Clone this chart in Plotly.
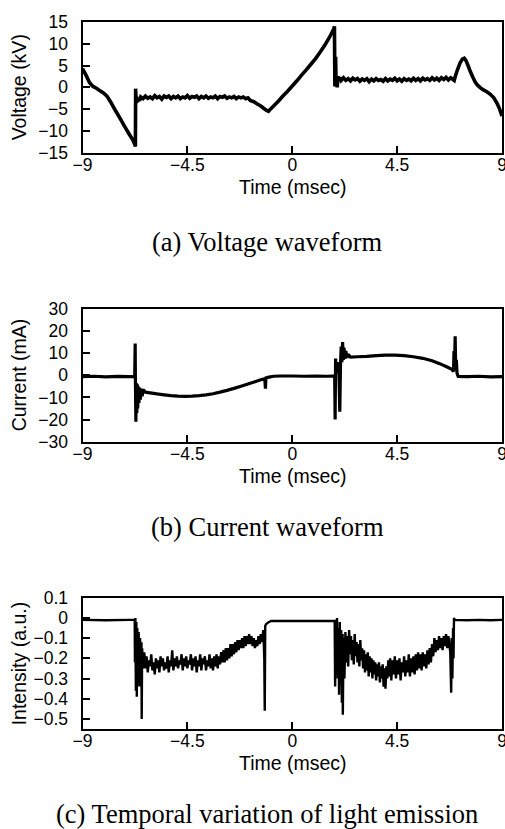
import plotly.graph_objects as go

# ---------------- data (time in msec) ----------------
voltage = [
    (-9.00, 4.3), (-8.85, 2.8), (-8.70, 1.1), (-8.55, 0.2), (-8.40, -0.2), (-8.25, -0.8),
    (-8.10, -1.3), (-7.95, -2.0), (-7.80, -3.3), (-7.60, -5.2), (-7.40, -7.0), (-7.20, -8.9),
    (-7.00, -10.7), (-6.85, -12.0), (-6.75, -13.2), (-6.73, -13.6), (-6.72, -0.3), (-6.70, -3.6),
    (-6.68, -2.2), (-6.64, -3.4), (-6.60, -2.6), (-6.55, -3.1), (-6.50, -2.2),
    (-6.40, -2.6), (-6.30, -2.0), (-6.20, -2.5), (-6.10, -2.2), (-6.00, -2.6), (-5.90, -1.9),
    (-5.80, -2.4), (-5.70, -2.1), (-5.60, -2.7), (-5.50, -2.0), (-5.40, -2.3), (-5.30, -2.0),
    (-5.20, -2.6), (-5.10, -2.1), (-5.00, -2.4), (-4.90, -2.0), (-4.80, -2.6), (-4.70, -2.2),
    (-4.60, -2.4), (-4.50, -1.9), (-4.40, -2.5), (-4.30, -2.1), (-4.20, -2.3), (-4.10, -2.0),
    (-4.00, -2.6), (-3.90, -2.1), (-3.80, -2.4), (-3.70, -2.0), (-3.60, -2.5), (-3.50, -2.2),
    (-3.40, -2.4), (-3.30, -2.0), (-3.20, -2.6), (-3.10, -2.1), (-3.00, -2.3), (-2.90, -2.0),
    (-2.80, -2.5), (-2.70, -2.2), (-2.60, -2.4), (-2.50, -2.1), (-2.40, -2.6), (-2.30, -2.2),
    (-2.20, -2.4), (-2.10, -2.2), (-2.00, -2.6), (-1.90, -2.4),
    (-1.80, -3.0), (-1.65, -3.3), (-1.50, -3.8), (-1.35, -4.3), (-1.20, -4.9), (-1.10, -5.3),
    (-1.02, -5.5), (-0.95, -5.1), (-0.80, -4.3), (-0.60, -3.2), (-0.40, -2.0), (-0.20, -0.9),
    (0.00, 0.3), (0.20, 1.5), (0.40, 2.8), (0.60, 4.0), (0.80, 5.3), (1.00, 6.6), (1.20, 8.1),
    (1.40, 9.7), (1.60, 11.5), (1.78, 13.4), (1.81, 14.0),
    (1.83, 0.2), (1.86, 7.0), (1.88, 0.8), (1.90, 2.6), (1.93, 0.0), (1.96, 2.5), (2.00, 1.4),
    (2.05, 2.3), (2.10, 1.6),
    (2.20, 2.2), (2.30, 1.6), (2.40, 2.0), (2.50, 1.5), (2.60, 2.1), (2.70, 1.7), (2.80, 2.0),
    (2.90, 1.4), (3.00, 1.9), (3.10, 1.6), (3.20, 2.0), (3.30, 1.3), (3.40, 1.9), (3.50, 1.5),
    (3.60, 2.0), (3.70, 1.6), (3.80, 1.8), (3.90, 1.4), (4.00, 2.0), (4.10, 1.5), (4.20, 1.9),
    (4.30, 1.6), (4.40, 2.1), (4.50, 1.5), (4.60, 1.9), (4.70, 1.4), (4.80, 2.0), (4.90, 1.6),
    (5.00, 1.9), (5.10, 1.5), (5.20, 2.1), (5.30, 1.6), (5.40, 2.0), (5.50, 1.5), (5.60, 2.1),
    (5.70, 1.7), (5.80, 2.0), (5.90, 1.6), (6.00, 2.2), (6.10, 1.7), (6.20, 2.1), (6.30, 1.6),
    (6.40, 2.2), (6.50, 1.8), (6.60, 2.3), (6.70, 1.7), (6.80, 2.2), (6.90, 1.8),
    (6.95, 1.6), (7.00, 2.6), (7.10, 4.2), (7.20, 5.6), (7.30, 6.5), (7.38, 6.7), (7.45, 6.2),
    (7.55, 4.9), (7.65, 3.5), (7.75, 2.3), (7.85, 1.2), (7.95, 0.5), (8.05, 0.0), (8.20, -0.6),
    (8.35, -1.0), (8.50, -1.6), (8.65, -2.4), (8.80, -3.8), (8.90, -5.0), (9.00, -6.6),
]

current = [
    (-9.00, -0.6), (-8.50, -0.4), (-8.00, -0.7), (-7.50, -0.5), (-7.00, -0.6), (-6.76, -0.5),
    (-6.74, 14.4), (-6.73, -2.0), (-6.71, -21.0), (-6.69, -3.5), (-6.67, -17.0), (-6.65, -4.0),
    (-6.63, -15.0), (-6.61, -5.0), (-6.58, -12.5), (-6.55, -5.5), (-6.52, -11.0), (-6.48, -6.0),
    (-6.44, -9.5), (-6.40, -6.5), (-6.30, -7.6), (-6.10, -7.9), (-5.80, -8.4), (-5.50, -8.8),
    (-5.20, -9.2), (-4.90, -9.4), (-4.60, -9.5), (-4.30, -9.4), (-4.00, -9.2), (-3.70, -8.8),
    (-3.40, -8.3), (-3.10, -7.6), (-2.80, -6.8), (-2.50, -5.9), (-2.20, -4.9), (-1.90, -3.9),
    (-1.60, -2.9), (-1.35, -2.0), (-1.18, -1.5), (-1.15, -6.0), (-1.13, -1.2), (-1.00, -0.8),
    (-0.80, -0.4), (-0.50, -0.3), (0.00, -0.3), (0.50, -0.4), (1.00, -0.3), (1.50, -0.4),
    (1.82, -0.3), (1.84, -20.0), (1.86, 7.6), (1.88, 1.0), (1.90, 5.0), (1.93, 1.5), (1.96, 6.0),
    (2.00, 3.0), (2.04, -16.5), (2.07, 5.0), (2.10, 13.0), (2.13, 6.0), (2.16, 15.0), (2.19, 7.0),
    (2.22, 12.5), (2.26, 7.5), (2.30, 11.0), (2.35, 8.0), (2.40, 9.5), (2.50, 8.2), (2.80, 8.4),
    (3.20, 8.6), (3.60, 8.9), (4.00, 9.1), (4.40, 9.1), (4.80, 8.9), (5.20, 8.4), (5.60, 7.7),
    (6.00, 6.6), (6.30, 5.4), (6.60, 4.0), (6.85, 2.7), (6.92, 1.8), (6.94, 11.0), (6.96, 2.5),
    (6.99, 17.7), (7.01, 5.0), (7.04, 7.0), (7.07, 1.0), (7.12, -0.5), (7.50, -0.6), (8.00, -0.4),
    (8.50, -0.7), (9.00, -0.6),
]

intensity = [
    (-9.00, -0.010), (-8.00, -0.012), (-7.00, -0.010), (-6.76, -0.010), (-6.75, -0.22),
    (-6.73, 0.00), (-6.71, -0.36), (-6.69, -0.02), (-6.67, -0.39), (-6.65, -0.05), (-6.62, -0.30),
    (-6.59, -0.07), (-6.56, -0.34), (-6.53, -0.10), (-6.50, -0.27), (-6.47, -0.12), (-6.46, -0.50),
    (-6.44, -0.15), (-6.40, -0.25), (-6.35, -0.17),
    (-6.30, -0.25), (-6.25, -0.19), (-6.20, -0.27), (-6.15, -0.21), (-6.10, -0.24), (-6.05, -0.18),
    (-6.00, -0.26), (-5.95, -0.22), (-5.90, -0.28), (-5.85, -0.20), (-5.80, -0.25), (-5.75, -0.21),
    (-5.70, -0.27), (-5.65, -0.19), (-5.60, -0.24), (-5.55, -0.20), (-5.50, -0.26), (-5.45, -0.22),
    (-5.40, -0.25), (-5.35, -0.19), (-5.30, -0.27), (-5.25, -0.21), (-5.20, -0.24), (-5.15, -0.16),
    (-5.10, -0.26), (-5.05, -0.20), (-5.00, -0.24), (-4.95, -0.19), (-4.90, -0.25), (-4.85, -0.21),
    (-4.80, -0.23), (-4.75, -0.18), (-4.70, -0.26), (-4.65, -0.20), (-4.60, -0.24), (-4.55, -0.19),
    (-4.50, -0.25), (-4.45, -0.21), (-4.40, -0.23), (-4.35, -0.18), (-4.30, -0.26), (-4.25, -0.20),
    (-4.20, -0.24), (-4.15, -0.19), (-4.10, -0.27), (-4.05, -0.21), (-4.00, -0.24), (-3.95, -0.18),
    (-3.90, -0.26), (-3.85, -0.20), (-3.80, -0.23), (-3.75, -0.19), (-3.70, -0.26), (-3.65, -0.21),
    (-3.60, -0.24), (-3.55, -0.18), (-3.50, -0.25), (-3.45, -0.20), (-3.40, -0.26), (-3.35, -0.19),
    (-3.30, -0.24), (-3.25, -0.18), (-3.20, -0.25), (-3.15, -0.19), (-3.10, -0.23), (-3.05, -0.17),
    (-3.00, -0.22), (-2.95, -0.16), (-2.90, -0.22), (-2.85, -0.15), (-2.80, -0.21), (-2.75, -0.15),
    (-2.70, -0.20), (-2.65, -0.13), (-2.60, -0.19), (-2.55, -0.13), (-2.50, -0.18), (-2.45, -0.12),
    (-2.40, -0.17), (-2.35, -0.11), (-2.30, -0.16), (-2.25, -0.11), (-2.20, -0.15), (-2.15, -0.10),
    (-2.10, -0.15), (-2.05, -0.09), (-2.00, -0.14), (-1.95, -0.09), (-1.90, -0.13), (-1.85, -0.08),
    (-1.80, -0.13), (-1.75, -0.09), (-1.70, -0.14), (-1.65, -0.10), (-1.60, -0.15), (-1.55, -0.11),
    (-1.50, -0.14), (-1.45, -0.09), (-1.40, -0.13), (-1.35, -0.08), (-1.30, -0.12),
    (-1.24, -0.06), (-1.20, -0.20), (-1.18, -0.46), (-1.16, -0.04), (-1.12, -0.03),
    (-1.00, -0.020), (-0.90, -0.015), (0.00, -0.015), (1.00, -0.015), (1.82, -0.015),
    (1.84, -0.34), (1.86, -0.01), (1.89, -0.20), (1.92, 0.00), (1.95, -0.30), (1.98, -0.05),
    (2.01, -0.38), (2.04, -0.02), (2.07, -0.33), (2.10, -0.06), (2.13, -0.42), (2.16, -0.08),
    (2.17, -0.48), (2.20, -0.10), (2.24, -0.30), (2.28, -0.07), (2.33, -0.22), (2.36, -0.09),
    (2.40, -0.24), (2.44, -0.06), (2.48, -0.18), (2.52, -0.09), (2.56, -0.21), (2.60, -0.11),
    (2.64, -0.23), (2.68, -0.08), (2.72, -0.19), (2.76, -0.12), (2.80, -0.22), (2.84, -0.13),
    (2.88, -0.24), (2.92, -0.11), (2.96, -0.21), (3.00, -0.15), (3.04, -0.25), (3.08, -0.16),
    (3.12, -0.27), (3.16, -0.18), (3.20, -0.26), (3.24, -0.17), (3.28, -0.29), (3.32, -0.19),
    (3.36, -0.27), (3.40, -0.20), (3.44, -0.30), (3.48, -0.21), (3.52, -0.28), (3.56, -0.22),
    (3.60, -0.31), (3.64, -0.23), (3.68, -0.29), (3.72, -0.22), (3.76, -0.32), (3.80, -0.24),
    (3.84, -0.30), (3.88, -0.23), (3.92, -0.34), (3.96, -0.25), (4.00, -0.35), (4.04, -0.24),
    (4.08, -0.30), (4.12, -0.21), (4.16, -0.29), (4.20, -0.20), (4.25, -0.31), (4.30, -0.21),
    (4.35, -0.28), (4.40, -0.19), (4.45, -0.30), (4.50, -0.21), (4.55, -0.28), (4.60, -0.20),
    (4.65, -0.31), (4.70, -0.22), (4.75, -0.27), (4.80, -0.19), (4.85, -0.29), (4.90, -0.21),
    (4.95, -0.27), (5.00, -0.18), (5.05, -0.29), (5.10, -0.20), (5.15, -0.27), (5.20, -0.19),
    (5.25, -0.28), (5.30, -0.18), (5.35, -0.26), (5.40, -0.17), (5.45, -0.25), (5.50, -0.18),
    (5.55, -0.26), (5.60, -0.17), (5.65, -0.24), (5.70, -0.18), (5.75, -0.25), (5.80, -0.16),
    (5.85, -0.23), (5.90, -0.15), (5.95, -0.22), (6.00, -0.13), (6.05, -0.19), (6.10, -0.10),
    (6.15, -0.17), (6.20, -0.11), (6.25, -0.16), (6.30, -0.09), (6.35, -0.15), (6.40, -0.10),
    (6.45, -0.16), (6.50, -0.09), (6.55, -0.14), (6.60, -0.08), (6.65, -0.15), (6.70, -0.09),
    (6.75, -0.14), (6.78, -0.17), (6.82, -0.37), (6.84, -0.10), (6.87, -0.30), (6.90, -0.05),
    (6.92, -0.20), (6.94, 0.00), (6.97, -0.010),
    (7.50, -0.012), (8.00, -0.010), (8.50, -0.012), (9.00, -0.010),
]

x_ticks = [-9, -4.5, 0, 4.5, 9]
x_tick_text = ["\u22129", "\u22124.5", "0", "4.5", "9"]
volt_ticks = [15, 10, 5, 0, -5, -10, -15]
curr_ticks = [30, 20, 10, 0, -10, -20, -30]
light_ticks = [0.1, 0, -0.1, -0.2, -0.3, -0.4, -0.5]
light_tick_text = ["0.1", "0", "\u22120.1", "\u22120.2", "\u22120.3", "\u22120.4", "\u22120.5"]

y_titles = ["Voltage (kV)", "Current (mA)", "Intensity (a.u.)"]
x_title = "Time (msec)"
captions = ["(a) Voltage waveform", "(b) Current waveform",
            "(c) Temporal variation of light emission"]

# ---------------- layout geometry (pixels) ----------------
W, H = 505, 829
box_left, box_right = 82.5, 502.0
boxes = [(22.0, 152.7), (309.0, 441.7), (597.7, 729.0)]  # (top, bottom)
caption_y = [242, 527, 814]


def py(p):
    return 1 - p / H


fig = go.Figure()
series = [voltage, current, intensity]
widths = [3.6, 3.2, 2.4]
for i, s in enumerate(series):
    t = [p[0] for p in s]
    v = [p[1] for p in s]
    fig.add_trace(go.Scatter(
        x=t, y=v, mode="lines",
        line=dict(color="black", width=widths[i], simplify=False),
        xaxis="x" if i == 0 else f"x{i+1}",
        yaxis="y" if i == 0 else f"y{i+1}",
        showlegend=False, hoverinfo="skip"))

tick_font = dict(family="Liberation Sans, Arial, sans-serif", size=17.5, color="black")
title_font = dict(family="Liberation Sans, Arial, sans-serif", size=19.5, color="black")
cap_font = dict(family="Liberation Serif, Times New Roman, serif", size=26.5, color="black")

common = dict(showline=True, linewidth=2, linecolor="black", mirror=True,
              ticks="inside", ticklen=7, tickwidth=2, tickcolor="black",
              showgrid=False, zeroline=False, tickfont=tick_font, fixedrange=True,
              automargin=False)

yranges = [[-15, 15], [-30, 30], [-0.55, 0.1]]
yticks = [(volt_ticks, [str(v).replace("-", "\u2212") for v in volt_ticks]),
          (curr_ticks, [str(v).replace("-", "\u2212") for v in curr_ticks]),
          (light_ticks, light_tick_text)]

layout = dict(template="none", width=W, height=H,
              margin=dict(l=0, r=0, t=0, b=0, pad=0, autoexpand=False),
              paper_bgcolor="white", plot_bgcolor="white", annotations=[])
for i, (top, bot) in enumerate(boxes):
    sx = "" if i == 0 else str(i + 1)
    layout["xaxis" + sx] = dict(common, domain=[box_left / W, box_right / W],
                                range=[-9, 9], tickvals=x_ticks, ticktext=x_tick_text,
                                anchor="y" + sx, ticklabelstandoff=-5,
                                ticklabeloverflow="allow")
    layout["yaxis" + sx] = dict(common, domain=[py(bot), py(top)],
                                range=yranges[i], tickvals=yticks[i][0],
                                ticktext=yticks[i][1], anchor="x" + sx,
                                ticklabelstandoff=9)
    mid = (top + bot) / 2
    layout["annotations"].append(dict(
        text=y_titles[i], textangle=-90, x=19 / W, y=py(mid), xref="paper", yref="paper",
        xanchor="center", yanchor="middle", showarrow=False, font=title_font))
    layout["annotations"].append(dict(
        text=x_title, x=292.7 / W, y=py(bot + 34), xref="paper", yref="paper",
        xanchor="center", yanchor="middle", showarrow=False, font=title_font))
    layout["annotations"].append(dict(
        text=captions[i], x=267 / W, y=py(caption_y[i]), xref="paper", yref="paper",
        xanchor="center", yanchor="middle", showarrow=False, font=cap_font))

fig.update_layout(**layout)
fig.write_html("out.html")
